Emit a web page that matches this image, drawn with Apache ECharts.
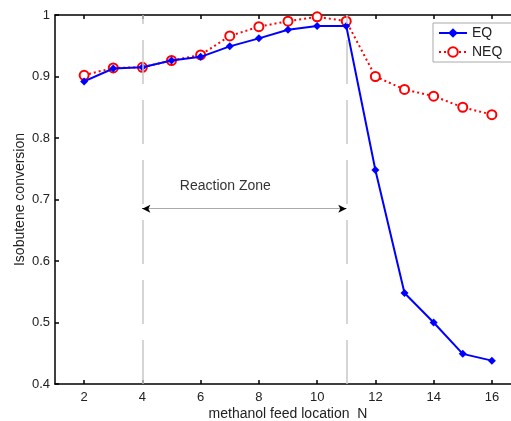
<!DOCTYPE html>
<html><head><meta charset="utf-8">
<script src="https://cdn.jsdelivr.net/npm/echarts@6/dist/echarts.min.js"></script>
<style>html,body{margin:0;padding:0;background:#fff}#c{width:511px;height:421px}</style>
</head><body><div id="c"></div>
<script>
const feedLocations = [2,3,4,5,6,7,8,9,10,11,12,13,14,15,16];
const eqValues  = [0.892,0.913,0.915,0.926,0.932,0.949,0.962,0.976,0.982,0.982,0.748,0.548,0.500,0.449,0.438];
const neqValues = [0.902,0.914,0.915,0.926,0.935,0.966,0.981,0.990,0.997,0.990,0.900,0.879,0.868,0.850,0.838];
const xTicks = [2,4,6,8,10,12,14,16];
const zoneBounds = [4, 11];
const arrowY = 0.685;
const zoneLabelPos = [6.85, 0.722];

const chart = echarts.init(document.getElementById('c'), null, {renderer:'canvas'});
const font = 'Liberation Sans, Arial, sans-serif';
const axisCommon = {
  axisLine:{show:true,lineStyle:{color:'#000',width:1.5}},
  axisTick:{inside:true,length:4,lineStyle:{color:'#000',width:1.5}},
  splitLine:{show:false}
};
chart.setOption({
  animation:false,
  grid:{left:55,top:15,width:466,height:369,show:false,containLabel:false,outerBoundsMode:'none'},
  xAxis:[{
    type:'value',min:1,max:17,
    ...axisCommon,
    axisTick:{inside:true,length:4,customValues:xTicks,lineStyle:{color:'#000',width:1.5}},
    axisLabel:{customValues:xTicks,color:'#222',fontSize:13,fontFamily:font,margin:7},
    name:'methanol feed location  N',nameLocation:'middle',nameGap:23,nameMoveOverlap:false,
    nameTextStyle:{color:'#222',fontSize:14,fontFamily:font}
  },{
    type:'value',min:1,max:17,position:'top',
    ...axisCommon,
    axisTick:{inside:true,length:4,customValues:xTicks,lineStyle:{color:'#000',width:1.5}},
    axisLabel:{show:false}
  }],
  yAxis:[{
    type:'value',min:0.4,max:1,interval:0.1,
    ...axisCommon,
    axisLabel:{color:'#222',fontSize:13,fontFamily:font,margin:5},
    name:'Isobutene conversion',nameLocation:'middle',nameGap:28,nameMoveOverlap:false,
    nameTextStyle:{color:'#222',fontSize:14,fontFamily:font}
  },{
    type:'value',min:0.4,max:1,interval:0.1,position:'right',
    ...axisCommon,axisLabel:{show:false}
  }],
  legend:{
    left:433,top:23,orient:'vertical',itemGap:5,itemWidth:28,itemHeight:12,
    backgroundColor:'#fff',borderColor:'#aaa',borderWidth:1,padding:[3,40,3,5],
    textStyle:{color:'#222',fontSize:14,fontFamily:font},
    data:['EQ','NEQ']
  },
  series:[
    {
      name:'EQ',type:'line',data:feedLocations.map((x,i)=>[x,eqValues[i]]),
      symbol:'diamond',symbolSize:8,
      itemStyle:{color:'#0000ff'},lineStyle:{color:'#0000ff',width:2},
      z:3,
      markLine:{
        silent:true,symbol:['none','none'],
        lineStyle:{color:'#c8c8c8',width:1.5,type:[44,16]},
        label:{show:false},
        data:[
          [{coord:[zoneBounds[0],0.4]},{coord:[zoneBounds[0],1]}],
          [{coord:[zoneBounds[1],0.4]},{coord:[zoneBounds[1],1]}]
        ]
      }
    },
    {
      name:'NEQ',type:'line',data:feedLocations.map((x,i)=>[x,neqValues[i]]),
      symbol:'circle',symbolSize:9,
      itemStyle:{color:'#fff',borderColor:'#ff0000',borderWidth:2},
      lineStyle:{color:'#ff0000',width:2,type:[2,3]},
      z:2,
      markLine:{
        silent:true,symbol:['none','none'],symbolSize:[6,8],
        lineStyle:{color:'#aaa',width:1,type:'solid'},
        label:{show:false},
        emphasis:{disabled:true},
        data:[
          [{coord:[zoneBounds[0],arrowY]},{coord:[zoneBounds[1],arrowY]}],
          [{coord:[zoneBounds[0],arrowY],symbol:'arrow',lineStyle:{color:'#000',width:1}},{coord:[zoneBounds[0]+0.05,arrowY],symbol:'none'}],
          [{coord:[zoneBounds[1]-0.05,arrowY],symbol:'none',lineStyle:{color:'#000',width:1}},{coord:[zoneBounds[1],arrowY],symbol:'arrow'}]
        ]
      },
      markPoint:{
        silent:true,symbol:'circle',symbolSize:1,
        itemStyle:{color:'rgba(0,0,0,0)',borderWidth:0},
        label:{show:true,position:'inside',formatter:'Reaction Zone',color:'#333',fontSize:14,fontFamily:font},
        data:[{coord:zoneLabelPos}]
      }
    }
  ]
});
</script></body></html>
